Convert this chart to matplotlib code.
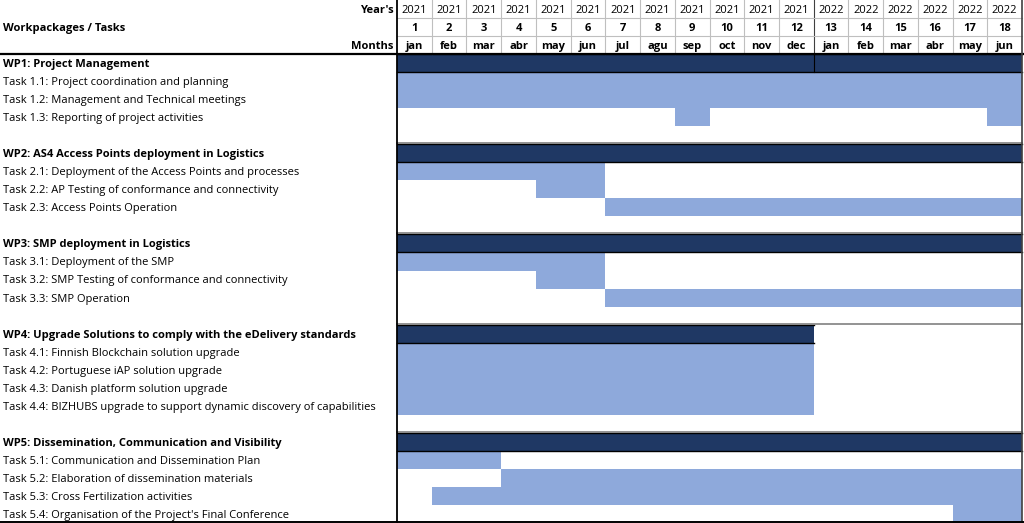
import matplotlib
matplotlib.use("Agg")
import matplotlib.pyplot as plt

plt.rcParams['font.family'] = ['Open Sans', 'DejaVu Sans']

# ---------------- data ----------------
years = ["2021"] * 12 + ["2022"] * 6
month_numbers = [str(i) for i in range(1, 19)]
month_names = ["jan", "feb", "mar", "abr", "may", "jun", "jul", "agu", "sep",
               "oct", "nov", "dec", "jan", "feb", "mar", "abr", "may", "jun"]

workpackages = [
    "WP1: Project Management",
    "WP2: AS4 Access Points deployment in Logistics",
    "WP3: SMP deployment in Logistics",
    "WP4: Upgrade Solutions to comply with the eDelivery standards",
    "WP5: Dissemination, Communication and Visibility",
]
# WP span (first month, last month)
wp_spans = [(1, 18), (1, 18), (1, 18), (1, 12), (1, 18)]

tasks = [
    ["Task 1.1: Project coordination and planning",
     "Task 1.2: Management and Technical meetings",
     "Task 1.3: Reporting of project activities"],
    ["Task 2.1: Deployment of the Access Points and processes",
     "Task 2.2: AP Testing of conformance and connectivity",
     "Task 2.3: Access Points Operation"],
    ["Task 3.1: Deployment of the SMP",
     "Task 3.2: SMP Testing of conformance and connectivity",
     "Task 3.3: SMP Operation"],
    ["Task 4.1: Finnish Blockchain solution upgrade",
     "Task 4.2: Portuguese iAP solution upgrade",
     "Task 4.3: Danish platform solution upgrade",
     "Task 4.4: BIZHUBS upgrade to support dynamic discovery of capabilities"],
    ["Task 5.1: Communication and Dissemination Plan",
     "Task 5.2: Elaboration of dissemination materials",
     "Task 5.3: Cross Fertilization activities",
     "Task 5.4: Organisation of the Project's Final Conference"],
]
# each task: list of (first month, last month) periods
task_periods = [
    [[(1, 18)], [(1, 18)], [(9, 9), (18, 18)]],
    [[(1, 6)], [(5, 6)], [(7, 18)]],
    [[(1, 6)], [(5, 6)], [(7, 18)]],
    [[(1, 12)], [(1, 12)], [(1, 12)], [(1, 12)]],
    [[(1, 3)], [(4, 18)], [(2, 18)], [(17, 18)]],
]

# ---------------- style ----------------
NAVY = "#1F3864"
LIGHT = "#8EA9DB"
GRID = "#BFBFBF"
N_MONTHS = len(month_names)
N_HEADER = 3
FS = 8.0
DY = 0.58  # text baseline offset within a row

n_rows = N_HEADER
for i, t in enumerate(tasks):
    n_rows += 1 + len(t) + (1 if i < len(tasks) - 1 else 0)

fig = plt.figure(figsize=(10.24, 5.23), dpi=100)
ax = fig.add_axes([0, 0, 1, 1])
px_per_month = 625 / 18.0
x_left = -397 / px_per_month
x_right = N_MONTHS + 2 / px_per_month
ax.set_xlim(x_left, x_right)
ax.set_ylim(n_rows, 0)
ax.axis("off")

label_x = x_left + 3 / px_per_month

# ---------------- header ----------------
for j in range(N_MONTHS):
    ax.text(j + 0.5, 0 + DY, years[j], ha="center", va="center", fontsize=FS)
    ax.text(j + 0.5, 1 + DY, month_numbers[j], ha="center", va="center",
            fontsize=FS, fontweight="bold")
    ax.text(j + 0.5, 2 + DY, month_names[j], ha="center", va="center",
            fontsize=FS, fontweight="bold")
for j in range(1, N_MONTHS):
    col = "#404040" if j == 12 else GRID
    ax.plot([j, j], [0, N_HEADER], color=col, lw=0.8, zorder=3)
for r in (1, 2):
    ax.plot([0, N_MONTHS], [r, r], color=GRID, lw=0.8, zorder=3)
ax.text(-0.1, 0 + DY, "Year's", ha="right", va="center", fontsize=FS, fontweight="bold")
ax.text(-0.1, 2 + DY, "Months", ha="right", va="center", fontsize=FS, fontweight="bold")
ax.text(label_x, 1 + DY, "Workpackages / Tasks", ha="left", va="center",
        fontsize=FS, fontweight="bold")

# ---------------- body ----------------
row = N_HEADER
block_tops = []
for i, wp in enumerate(workpackages):
    block_tops.append(row)
    s, e = wp_spans[i]
    ax.barh(row + 0.5, e - s + 1, left=s - 1, height=1.0, color=NAVY,
            edgecolor="none", zorder=2)
    ax.plot([s - 1, e], [row, row], color="black", lw=1.0, zorder=4)
    ax.plot([s - 1, e], [row + 1, row + 1], color="black", lw=1.0, zorder=4)
    if i == 0:
        ax.plot([12, 12], [row, row + 1], color="black", lw=0.8, zorder=4)
    ax.text(label_x, row + DY, wp, ha="left", va="center", fontsize=FS,
            fontweight="bold")
    row += 1
    for k, t in enumerate(tasks[i]):
        for (ps, pe) in task_periods[i][k]:
            ax.barh(row + 0.5, pe - ps + 1, left=ps - 1, height=1.0,
                    color=LIGHT, edgecolor="none", zorder=2)
        ax.text(label_x, row + DY, t, ha="left", va="center", fontsize=FS)
        row += 1
    if i < len(workpackages) - 1:
        row += 1

for bt in block_tops[1:]:
    ax.plot([0, N_MONTHS], [bt - 0.06, bt - 0.06], color="#808080", lw=1.2, zorder=4)

ax.plot([x_left, x_right], [N_HEADER, N_HEADER], color="black", lw=1.6, zorder=5)
ax.plot([0, 0], [0, n_rows], color="black", lw=1.3, zorder=5)
ax.plot([N_MONTHS, N_MONTHS], [0, n_rows], color="#404040", lw=1.2, zorder=5)
ax.plot([x_left, x_right], [n_rows - 0.03, n_rows - 0.03], color="black", lw=1.4, zorder=5)

fig.savefig("out.png", dpi=100)
